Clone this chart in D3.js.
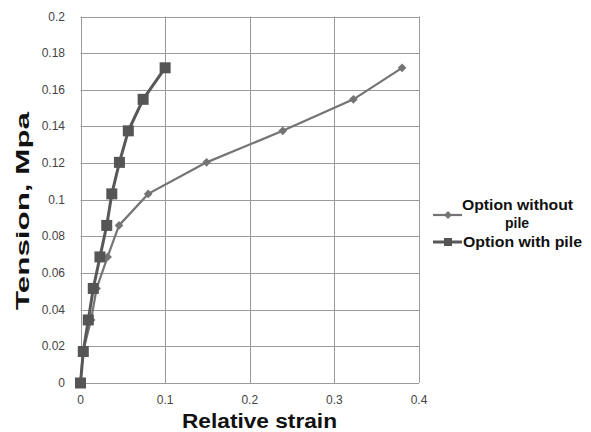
<!DOCTYPE html>
<html>
<head>
<meta charset="utf-8">
<script src="https://cdn.jsdelivr.net/npm/d3@7"></script>
<style>
  body { margin: 0; background: #fff; }
  svg { display: block; }
</style>
</head>
<body>
<div id="chart"></div>
<script>
// Series
const seriesNames = ['Option without pile', 'Option with pile'];
const tension = [0, 0.0172, 0.0344, 0.0516, 0.0688, 0.086, 0.1032, 0.1204, 0.1376, 0.1548, 0.172];
const strainWithoutPile = [0, 0.003, 0.0125, 0.019, 0.032, 0.0455, 0.080, 0.149, 0.239, 0.3225, 0.380];
const strainWithPile = [0, 0.0033, 0.0092, 0.0151, 0.023, 0.031, 0.037, 0.046, 0.0565, 0.074, 0.100];
const xTicks = [0, 0.1, 0.2, 0.3, 0.4];
const yTicks = [0, 0.02, 0.04, 0.06, 0.08, 0.1, 0.12, 0.14, 0.16, 0.18, 0.2];

const width = 591, height = 432;
const margin = { left: 80.5, top: 16.5, right: 172, bottom: 49 };

const svg = d3.select('#chart').append('svg')
  .attr('width', width)
  .attr('height', height)
  .style('font-family', 'Arial, "Liberation Sans", sans-serif');

const x = d3.scaleLinear().domain([0, 0.4]).range([margin.left, width - margin.right]);
const y = d3.scaleLinear().domain([0, 0.2]).range([height - margin.bottom, margin.top]);

// Grid
const grid = svg.append('g');
grid.selectAll('.hg').data(yTicks).enter().append('line')
  .attr('x1', x(0)).attr('x2', x(0.4))
  .attr('y1', d => Math.round(y(d)) + 0.5).attr('y2', d => Math.round(y(d)) + 0.5)
  .attr('stroke', '#9a9a9a').attr('stroke-width', 1);
grid.selectAll('.vg').data(xTicks).enter().append('line')
  .attr('x1', d => Math.round(x(d)) + 0.5).attr('x2', d => Math.round(x(d)) + 0.5)
  .attr('y1', y(0)).attr('y2', y(0.2))
  .attr('stroke', '#9a9a9a').attr('stroke-width', 1);

// Tick labels
svg.append('g').selectAll('text').data(yTicks).enter().append('text')
  .attr('x', 65)
  .attr('y', d => y(d) + 4)
  .attr('text-anchor', 'end')
  .attr('font-size', '12px')
  .attr('fill', '#444')
  .text(d => d3.format('')(+d.toFixed(2)));

svg.append('g').selectAll('text').data(xTicks).enter().append('text')
  .attr('x', d => x(d))
  .attr('y', 404)
  .attr('text-anchor', 'middle')
  .attr('font-size', '12px')
  .attr('fill', '#444')
  .text(d => d3.format('')(+d.toFixed(1)));

// Axis titles (the original is stretched along its length)
svg.append('text')
  .attr('x', 182).attr('y', 428)
  .attr('font-size', '20px')
  .attr('font-weight', 'bold')
  .attr('fill', '#111')
  .attr('textLength', 155)
  .attr('lengthAdjust', 'spacingAndGlyphs')
  .text('Relative strain');

svg.append('text')
  .attr('transform', 'translate(29,310) rotate(-90)')
  .attr('font-size', '18px')
  .attr('font-weight', 'bold')
  .attr('fill', '#111')
  .attr('textLength', 198)
  .attr('lengthAdjust', 'spacingAndGlyphs')
  .text('Tension, Mpa');

// Lines
const line = d3.line().x(d => x(d[0])).y(d => y(d[1]));
const dataWithout = strainWithoutPile.map((s, i) => [s, tension[i]]);
const dataWith = strainWithPile.map((s, i) => [s, tension[i]]);

svg.append('path').datum(dataWithout)
  .attr('d', line).attr('fill', 'none')
  .attr('stroke', '#747474').attr('stroke-width', 2.2);

svg.append('g').selectAll('path').data(dataWithout).enter().append('path')
  .attr('d', d3.symbol(d3.symbolDiamond2, 48))
  .attr('transform', d => `translate(${x(d[0])},${y(d[1])})`)
  .attr('fill', '#747474');

svg.append('path').datum(dataWith)
  .attr('d', line).attr('fill', 'none')
  .attr('stroke', '#585858').attr('stroke-width', 3);

svg.append('g').selectAll('rect').data(dataWith).enter().append('rect')
  .attr('x', d => x(d[0]) - 5.5).attr('y', d => y(d[1]) - 5.5)
  .attr('width', 11).attr('height', 11)
  .attr('fill', '#555');

// Legend
const legend = svg.append('g');
legend.append('line').attr('x1', 433).attr('x2', 462).attr('y1', 215).attr('y2', 215)
  .attr('stroke', '#747474').attr('stroke-width', 2.2);
legend.append('path').attr('d', d3.symbol(d3.symbolDiamond2, 40))
  .attr('transform', 'translate(448,215)').attr('fill', '#747474');
legend.append('line').attr('x1', 433).attr('x2', 462).attr('y1', 242).attr('y2', 242)
  .attr('stroke', '#585858').attr('stroke-width', 3);
legend.append('rect').attr('x', 444).attr('y', 238).attr('width', 8).attr('height', 8)
  .attr('fill', '#555');

legend.append('text').attr('x', 462).attr('y', 210)
  .attr('font-size', '14px').attr('font-weight', 'bold').attr('fill', '#111')
  .attr('textLength', 111).attr('lengthAdjust', 'spacingAndGlyphs')
  .text('Option without');
legend.append('text').attr('x', 517).attr('y', 228).attr('text-anchor', 'middle')
  .attr('font-size', '14px').attr('font-weight', 'bold').attr('fill', '#111')
  .text('pile');
legend.append('text').attr('x', 463).attr('y', 247)
  .attr('font-size', '14px').attr('font-weight', 'bold').attr('fill', '#111')
  .attr('textLength', 119).attr('lengthAdjust', 'spacingAndGlyphs')
  .text('Option with pile');
</script>
</body>
</html>
